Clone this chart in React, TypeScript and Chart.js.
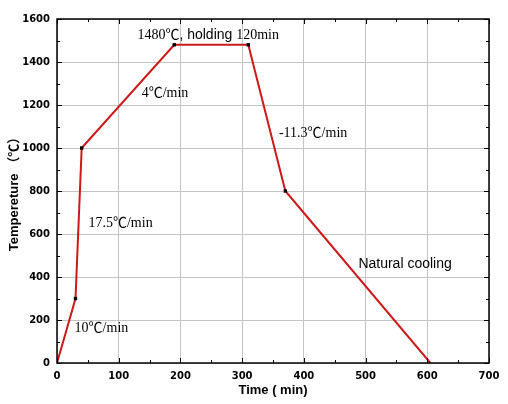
import React, { useEffect, useRef } from "react";
import { Chart, registerables } from "chart.js";

Chart.register(...registerables);

// Process curve data (time in min, temperature in °C)
const timeValues = [0, 30, 40, 190, 310, 370, 605];
const tempValues = [0, 300, 1000, 1480, 1480, 800, 0];
const markerShown = [false, true, true, true, true, true, false];

const xTicks = [0, 100, 200, 300, 400, 500, 600, 700];
const yTicks = [0, 200, 400, 600, 800, 1000, 1200, 1400, 1600];

// Annotation texts with their anchor (data coordinates)
const annotationTexts = ["4℃/min", "-11.3℃/min", "17.5℃/min", "10℃/min", "Natural cooling"];
const annotationX = [175, 415, 103, 72, 564];
const annotationY = [1256, 1066, 650, 163, 461];
const annotationSerif = [true, true, true, true, false];

const holdParts = ["1480℃", ", holding ", "120min"];
const holdSerif = [true, false, true];
const holdX = 245;
const holdY = 1525;

const SERIF = "14px 'Liberation Serif', 'Noto Sans CJK SC', serif";
const SANS = "14px 'Liberation Sans', Arial, sans-serif";

const framePlugin = {
  id: "framePlugin",
  afterDraw(chart: any) {
    const { ctx, chartArea, scales } = chart;
    const { left, right, top, bottom } = chartArea;
    const xs = scales.x;
    const ys = scales.y;
    ctx.save();
    ctx.strokeStyle = "#000";
    ctx.lineWidth = 1;
    // minor & major ticks inward on all sides
    ctx.beginPath();
    for (let v = 0; v <= 700; v += 50) {
      const px = Math.round(xs.getPixelForValue(v)) + 0.5;
      const len = v % 100 === 0 ? 5 : 3;
      ctx.moveTo(px, bottom);
      ctx.lineTo(px, bottom - len);
      ctx.moveTo(px, top);
      ctx.lineTo(px, top + len);
    }
    for (let v = 0; v <= 1600; v += 100) {
      const py = Math.round(ys.getPixelForValue(v)) + 0.5;
      const len = v % 200 === 0 ? 5 : 3;
      ctx.moveTo(left, py);
      ctx.lineTo(left + len, py);
      ctx.moveTo(right, py);
      ctx.lineTo(right - len, py);
    }
    ctx.stroke();
    ctx.lineWidth = 1.5;
    ctx.strokeRect(left, top, right - left, bottom - top);

    // annotations
    ctx.fillStyle = "#000";
    ctx.textBaseline = "middle";
    ctx.textAlign = "center";
    for (let i = 0; i < annotationTexts.length; i++) {
      ctx.font = annotationSerif[i] ? SERIF : SANS;
      ctx.fillText(
        annotationTexts[i],
        xs.getPixelForValue(annotationX[i]),
        ys.getPixelForValue(annotationY[i])
      );
    }
    // mixed-font holding label
    ctx.textAlign = "left";
    let total = 0;
    const widths: number[] = [];
    for (let i = 0; i < holdParts.length; i++) {
      ctx.font = holdSerif[i] ? SERIF : SANS;
      const w = ctx.measureText(holdParts[i]).width;
      widths.push(w);
      total += w;
    }
    let cx = xs.getPixelForValue(holdX) - total / 2;
    const cy = ys.getPixelForValue(holdY);
    for (let i = 0; i < holdParts.length; i++) {
      ctx.font = holdSerif[i] ? SERIF : SANS;
      ctx.fillText(holdParts[i], cx, cy);
      cx += widths[i];
    }
    ctx.restore();
  },
};

export default function App() {
  const canvasRef = useRef<HTMLCanvasElement | null>(null);

  useEffect(() => {
    document.body.style.margin = "0";
    const canvas = canvasRef.current;
    if (!canvas) return;
    const points = timeValues.map((t, i) => ({ x: t, y: tempValues[i] }));
    const tickFont = { family: "'DejaVu Sans', sans-serif", size: 10, weight: "bold" as const };
    const titleFont = { family: "'Liberation Sans', Arial, 'Noto Sans CJK SC', sans-serif", size: 13, weight: "bold" as const };
    const chart = new Chart(canvas, {
      type: "line",
      data: {
        datasets: [
          {
            data: points,
            borderColor: "#cc1a1a",
            borderWidth: 2,
            tension: 0,
            pointStyle: "rect",
            pointRadius: markerShown.map((m) => (m ? 2.4 : 0)),
            pointBackgroundColor: "#000",
            pointBorderColor: "#000",
            pointBorderWidth: 0,
          },
        ],
      },
      options: {
        animation: false,
        responsive: false,
        devicePixelRatio: 1,
        layout: { padding: { top: 19, right: 19, left: 0, bottom: 0 } },
        plugins: {
          legend: { display: false },
          tooltip: { enabled: false },
        },
        scales: {
          x: {
            type: "linear",
            min: 0,
            max: 700,
            afterBuildTicks: (scale: any) => {
              scale.ticks = xTicks.map((v) => ({ value: v }));
            },
            afterFit: (scale: any) => {
              scale.height = 41;
            },
            ticks: {
              color: "#000",
              font: tickFont,
              padding: 7,
              maxRotation: 0,
              callback: (v: any) => String(v),
            },
            grid: { color: "#c4c4c4", lineWidth: 1, drawTicks: false },
            border: { display: false },
            title: {
              display: true,
              text: "Time ( min)",
              color: "#000",
              font: titleFont,
              padding: { top: 0, bottom: 6 },
            },
          },
          y: {
            type: "linear",
            min: 0,
            max: 1600,
            afterBuildTicks: (scale: any) => {
              scale.ticks = yTicks.map((v) => ({ value: v }));
            },
            afterFit: (scale: any) => {
              scale.width = 57;
            },
            ticks: {
              color: "#000",
              font: tickFont,
              padding: 7,
              callback: (v: any) => String(v),
            },
            grid: { color: "#c4c4c4", lineWidth: 1, drawTicks: false },
            border: { display: false },
            title: {
              display: true,
              text: "Tempereture （℃）",
              color: "#000",
              font: titleFont,
              padding: { top: 7, bottom: 0 },
            },
          },
        },
      },
      plugins: [framePlugin],
    });
    return () => chart.destroy();
  }, []);

  return (
    <div style={{ width: 508, height: 404, overflow: "hidden", background: "#fff" }}>
      <canvas ref={canvasRef} width={508} height={404} style={{ display: "block" }} />
    </div>
  );
}
